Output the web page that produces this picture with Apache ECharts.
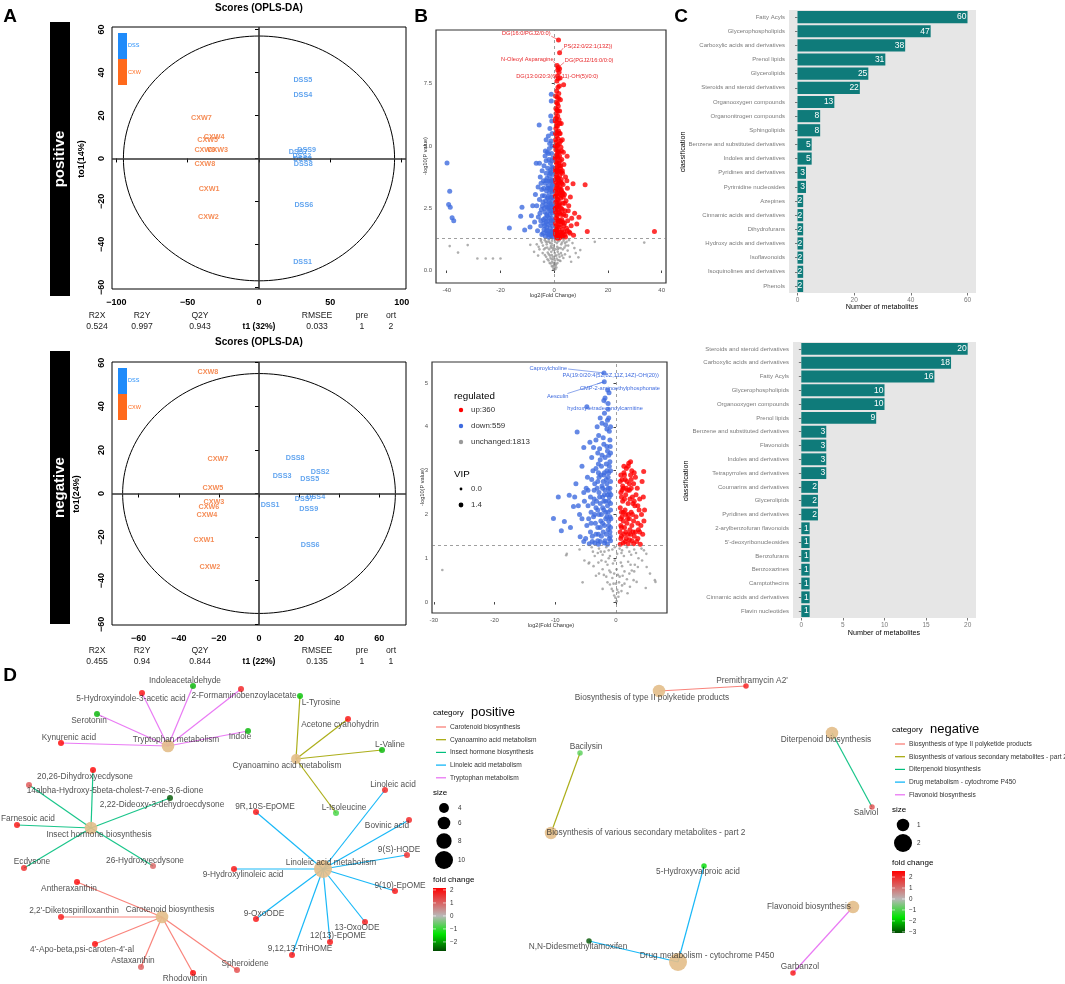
<!DOCTYPE html>
<html><head><meta charset="utf-8">
<script src="https://cdn.jsdelivr.net/npm/echarts@6/dist/echarts.min.js"></script>
<style>html,body{margin:0;padding:0;background:#fff}#c{width:1065px;height:984px}</style>
</head><body><div id="c"></div>
<script>
// ================= DATA =================
// --- A: OPLS-DA scores ---
const oplsSamples = ['CXW1','CXW2','CXW3','CXW4','CXW5','CXW6','CXW7','CXW8','DSS1','DSS2','DSS3','DSS4','DSS5','DSS6','DSS7','DSS8','DSS9'];
const posT1  = [-35,-35.5,-29,-31.4,-36,-38,-40.4,-38, 30.5,30,30.5,30.7,30.7,31.4,27.5,31,33.4];
const posTo1 = [-14.4,-27.4,3.7,10.2,8.8,3.7,18.6,-2.8, -48.4,1,-0.5,29.3,36.3,-21.9,2.8,-2.8,3.7];
const negT1  = [-27.5,-24.5,-22.5,-26,-23,-25,-20.5,-25.5, 5.5,30.5,11.5,28.3,25.3,25.5,22.5,18,24.8];
const negTo1 = [-21.2,-33.5,-3.8,-9.8,2.3,-6.2,16,55.8, -5.3,9.8,7.8,-1.8,6.7,-23.4,-2.4,16.4,-7.2];
const posEllipse = [95, 57];
const negEllipse = [68, 55];
const posXTicks = [-100,-50,0,50,100];
const negXTicks = [-60,-40,-20,0,20,40,60];
const oplsYTicks = [-60,-40,-20,0,20,40,60];
const statNames = ['R2X','R2Y','Q2Y','RMSEE','pre','ort'];
const posStats = ['0.524','0.997','0.943','0.033','1','2'];
const negStats = ['0.455','0.94','0.844','0.135','1','1'];
const posAxisNames = ['t1 (32%)','to1(14%)'];
const negAxisNames = ['t1 (22%)','to1(24%)'];
const groupNames = ['DSS','CXW'];

// --- B: volcano plots ---
const volPosUp = [[1.6,9.25],[2.0,8.74],[1.1,8.23],[1.5,8.15],[1.3,8.05],[1.8,7.95],[1.2,7.8],[2.2,7.72],[3.5,7.45],[1.0,7.6],[1.4,7.35],[0.9,7.2],[1.7,7.1],[1.1,6.95],[2.3,6.85],[0.8,6.75],[1.5,6.6],[1.0,6.45],[2.0,6.4],[0.7,6.3],[1.3,6.2],[1.8,6.05],[0.9,5.95],[2.6,5.9],[1.2,5.8],[0.6,5.7],[1.6,5.6],[2.2,5.5],[0.9,5.4],[1.4,5.3],[3.0,5.25],[0.7,5.15],[1.9,5.1],[1.1,5.0],[2.5,4.95],[0.6,4.85],[1.5,4.8],[3.4,4.75],[0.9,4.65],[2.0,4.6],[4.8,4.59],[1.2,4.5],[2.8,4.45],[0.7,4.35],[1.7,4.3],[3.6,4.25],[1.0,4.15],[2.3,4.1],[0.5,4.0],[1.4,3.95],[3.1,3.9],[0.8,3.85],[2.0,3.8],[4.2,3.75],[1.1,3.7],[2.6,3.65],[0.6,3.55],[1.6,3.5],[7.0,3.48],[11.5,3.44],[3.3,3.45],[0.9,3.4],[2.2,3.35],[4.9,3.3],[1.3,3.25],[0.5,3.2],[2.9,3.15],[1.8,3.1],[3.8,3.05],[0.8,3.0],[6.0,2.95],[2.4,2.9],[1.2,2.85],[4.4,2.8],[0.6,2.75],[3.2,2.7],[1.7,2.65],[5.4,2.6],[0.9,2.55],[2.6,2.5],[1.4,2.45],[4.0,2.4],[0.5,2.35],[7.6,2.3],[2.1,2.3],[3.5,2.25],[1.1,2.2],[9.2,2.14],[0.7,2.1],[2.8,2.05],[5.0,2.0],[1.6,1.95],[0.5,1.9],[3.8,1.9],[8.4,1.87],[2.3,1.85],[6.3,1.8],[1.2,1.75],[4.6,1.7],[0.8,1.65],[3.0,1.65],[12.3,1.57],[37.3,1.57],[1.9,1.55],[5.6,1.55],[0.6,1.5],[2.6,1.45],[4.0,1.45],[1.4,1.4],[7.2,1.42],[0.9,1.35],[3.3,1.35],[2.0,1.32],[0.4,6.0],[0.5,5.5],[0.4,5.0],[0.4,4.5],[0.4,3.0],[0.4,2.5],[0.4,1.6],[1.0,1.5],[1.5,2.0],[1.9,2.6],[2.5,3.2],[1.8,3.6],[2.4,4.2],[2.7,3.0],[3.6,1.8],[4.3,2.2],[4.9,1.6],[3.9,2.7],[2.2,2.0],[1.2,1.3],[3.1,1.5],[5.2,2.4],[6.5,2.1],[5.9,1.5],[4.7,3.6],[3.0,4.0],[2.7,4.8],[1.8,4.0],[1.9,5.5],[1.4,6.4],[1.7,6.9],[2.0,5.9],
  [0.5,7.0],[0.6,6.5],[0.5,6.1],[0.8,5.8],[1.0,5.55],[0.5,5.25],[1.3,5.05],[0.8,4.9],[1.8,4.75],[0.6,4.6],[1.4,4.55],[2.2,4.4],[0.9,4.3],[1.9,4.2],[0.6,4.1],[1.2,4.0],[2.6,3.95],[0.9,3.75],[1.5,3.7],[0.5,3.65],[2.3,3.55],[1.2,3.45],[0.7,3.3],[1.7,3.3],[2.6,3.25],[1.0,3.1],[2.1,3.05],[0.6,2.95],[1.5,2.85],[3.4,2.95],[0.8,2.7],[2.0,2.7],[1.1,2.55],[3.0,2.45],[0.6,2.45],[1.8,2.35],[2.7,2.25],[0.9,2.25],[1.3,2.05],[2.5,1.95],[0.7,1.8],[1.9,1.75],[3.2,1.95],[1.0,1.6],[2.3,1.55],[0.5,1.45],[1.6,1.38],[2.9,1.4],[3.7,1.55],[4.2,1.35],[2.8,3.5],[3.3,3.1],[0.7,3.95],[1.3,4.75],[2.4,5.2],[0.8,6.1],[1.2,6.7],[1.9,7.4],[1.5,7.7],[2.0,8.1]];
const volPosDown = [[-39.9,4.31],[-38.9,3.18],[-39.3,2.65],[-38.7,2.54],[-38.0,2.12],[-37.4,2.0],[-16.7,1.71],[-12.0,2.54],[-12.5,2.18],[-11.0,1.63],[-5.6,5.84],[-1.1,7.07],[-1.1,6.8],[-1.3,6.2],[-0.9,6.0],[-1.6,5.7],[-0.8,5.5],[-2.2,5.4],[-1.2,5.2],[-3.0,5.25],[-0.7,5.0],[-1.8,4.9],[-2.6,4.75],[-1.0,4.7],[-3.4,4.6],[-0.6,4.5],[-2.0,4.45],[-5.5,4.3],[-6.7,4.3],[-1.4,4.3],[-3.8,4.2],[-0.8,4.15],[-2.4,4.1],[-4.5,4.0],[-1.1,3.95],[-3.0,3.9],[-0.5,3.85],[-1.8,3.8],[-5.2,3.75],[-2.7,3.7],[-0.9,3.65],[-4.0,3.6],[-1.5,3.55],[-3.3,3.5],[-0.6,3.45],[-2.2,3.4],[-6.0,3.35],[-1.2,3.3],[-4.6,3.25],[-2.9,3.2],[-0.8,3.15],[-1.9,3.1],[-7.0,3.05],[-3.6,3.0],[-1.0,2.95],[-2.5,2.9],[-5.5,2.85],[-0.6,2.8],[-4.2,2.75],[-1.6,2.7],[-3.1,2.65],[-6.5,2.6],[-0.9,2.55],[-2.2,2.5],[-4.8,2.45],[-1.3,2.4],[-3.5,2.35],[-8.5,2.2],[-0.7,2.3],[-2.8,2.25],[-5.9,2.15],[-1.8,2.1],[-4.0,2.05],[-1.0,2.0],[-7.3,1.95],[-3.0,1.95],[-2.2,1.85],[-5.0,1.8],[-0.6,1.8],[-1.5,1.7],[-3.8,1.65],[-6.2,1.6],[-0.9,1.55],[-2.6,1.5],[-4.6,1.45],[-1.2,1.4],[-3.3,1.38],[-0.5,1.35],[-2.0,1.35],[-9.0,1.75],[-8.0,2.6],[-3.0,4.4],[-2.0,3.6],[-1.4,2.9],[-2.4,2.0],[-0.4,2.0],[-0.4,2.6],[-0.4,3.2],[-1.7,1.45],[-3.7,2.5],[-4.4,3.0],[-2.9,1.6],[-5.3,2.3],[-1.1,3.6],[-2.1,4.7],[-3.9,1.9],[-1.9,2.55],[-0.5,4.1],
  [-0.5,2.4],[-1.1,2.65],[-1.6,2.25],[-2.0,2.75],[-0.8,2.95],[-2.6,2.2],[-3.2,2.8],[-1.3,1.9],[-0.7,1.6],[-2.4,1.6],[-1.9,3.3],[-3.4,2.1],[-4.4,2.6],[-0.6,3.6],[-1.5,3.9],[-2.5,3.3],[-3.1,3.6],[-1.2,1.55],[-2.1,1.45],[-3.5,1.8],[-4.1,1.5],[-0.9,4.4],[-1.6,4.0],[-2.8,1.75],[-0.5,1.5],[-1.4,3.25],[-2.3,2.95],[-3.9,3.3],[-5.0,2.0],[-0.9,2.1],[-1.8,2.4],[-2.7,2.55],[-0.7,3.4],[-4.9,3.5],[-3.3,4.8],[-1.7,5.1]];
const volPosNone = [[-38.9,0.98],[-32.2,1.02],[-35.8,0.72],[-28.6,0.48],[-25.5,0.48],[-22.8,0.48],[-20.0,0.48],[-8.9,1.03],[15.1,1.15],[33.5,1.12],[9.7,0.82],[9.0,0.53],[-5.0,1.2],[-3.5,1.22],[-2.0,1.25],[-0.8,1.2],[0.6,1.25],[2.0,1.22],[3.5,1.2],[5.5,1.22],[-6.5,1.05],[-4.2,1.0],[-2.8,1.05],[-1.5,1.1],[-0.3,1.0],[1.0,1.1],[2.6,1.05],[4.3,1.0],[6.8,1.1],[-5.5,0.85],[-3.3,0.9],[-1.9,0.85],[-0.7,0.9],[0.5,0.85],[1.7,0.9],[3.2,0.85],[5.0,0.8],[7.5,0.9],[-4.3,0.7],[-2.4,0.72],[-1.1,0.75],[0.2,0.7],[1.3,0.75],[2.5,0.7],[4.0,0.65],[-3.0,0.55],[-1.6,0.6],[-0.5,0.55],[0.8,0.6],[2.0,0.55],[3.4,0.5],[-2.1,0.4],[-0.9,0.45],[0.3,0.4],[1.4,0.42],[-1.3,0.28],[-0.3,0.3],[0.7,0.25],[-0.6,0.15],[0.2,0.12],[0,0.05],[-0.2,0.2],[0.5,0.2],[-6.0,0.6],[5.8,0.55],[-7.5,0.75],[8.0,0.7],[-0.4,0.82],[1.1,0.95],[-1.2,0.98],[2.3,0.38],[-2.6,1.15],[4.6,1.15],[-3.8,0.35],[6.3,0.35],
  [-4.6,1.12],[-3.1,1.15],[-1.9,1.15],[-0.9,1.08],[0.3,1.15],[1.5,1.17],[2.9,1.12],[4.0,1.1],[-3.8,0.85],[-2.6,0.92],[-1.3,0.92],[-0.1,0.9],[1.3,0.85],[2.4,0.9],[3.8,0.92],[-3.5,0.62],[-2.0,0.65],[-0.9,0.62],[0.4,0.6],[1.7,0.65],[2.9,0.6],[-2.5,0.45],[-1.4,0.5],[-0.3,0.45],[0.9,0.48],[2.0,0.4],[-1.7,0.3],[-0.8,0.35],[0.2,0.3],[1.2,0.3],[-0.9,0.18],[0.0,0.22],[0.8,0.12],[-0.3,0.06],[0.4,0.05],[-4.9,1.25],[5.2,1.0],[-5.8,0.95]];
const volPosLabels = [ // text, label x, label y, segment start x, y, point x, y
  ['DG(16:0/PGJ2/0:0)', -10.4, 9.52, -1.1, 9.4, 1.6, 9.25],
  ['PS(22:0/22:1(13Z))', 12.6, 9.0, 3.3, 8.92, 2.0, 8.74],
  ['N-Oleoyl Asparagine', -10, 8.47, -0.4, 8.39, 1.1, 8.23],
  ['DG(PGJ2/16:0/0:0)', 13, 8.43, 3.7, 8.35, 1.5, 8.15],
  ['DG(13:0/20:3(6,8,11)-OH(5)/0:0)', 1.1, 7.8, null, null, null, null]
];
const volNegUp = [[2.1,3.17],[2.0,3.1],[4.56,2.98],[1.3,2.95],[2.4,2.9],[1.0,2.8],[1.8,2.75],[2.9,2.7],[3.5,2.6],[1.2,2.6],[2.2,2.55],[0.8,2.5],[1.6,2.45],[2.7,2.4],[3.9,2.35],[1.1,2.3],[2.0,2.25],[3.1,2.2],[0.7,2.15],[1.5,2.1],[2.5,2.05],[4.2,2.0],[1.0,1.95],[1.9,1.9],[2.9,1.85],[3.6,1.8],[0.8,1.75],[1.4,1.7],[2.3,1.65],[3.2,1.6],[4.4,1.55],[0.9,1.5],[1.7,1.45],[2.6,1.4],[3.4,1.38],[1.2,1.35],[2.0,1.33],[0.7,1.32],[4.0,1.32],[1.4,2.9],[2.6,3.0],[3.0,2.95],[1.7,3.05],[0.9,2.05],[1.3,1.55],[2.2,1.9],[2.8,2.25],[3.3,2.45],[3.8,2.1],[4.7,2.1],[4.5,2.4],[0.7,1.6],[1.6,2.0],[2.4,1.55],[3.0,1.5],[1.1,2.65],[1.9,2.55],[2.5,2.8],[3.7,1.65],[4.1,1.75],
  [0.8,2.9],[1.5,2.8],[2.2,2.7],[3.2,2.85],[0.9,2.4],[1.4,2.35],[2.3,2.35],[3.0,2.3],[0.75,1.9],[1.2,1.85],[1.8,1.8],[2.6,1.75],[3.3,1.95],[0.8,1.45],[1.5,1.38],[2.2,1.42],[2.9,1.33],[3.6,1.45],[1.2,2.05],[2.0,2.0],[2.7,2.0],[1.0,2.55],[1.7,2.6],[2.5,2.6],[3.6,2.2],[4.3,2.75],[0.9,1.7],[2.0,1.55],[1.3,3.1],[2.4,3.2],[0.7,2.75],[3.9,1.6],[4.6,1.85],[1.6,1.6],[2.8,1.6]];
const volNegDown = [[-1.98,5.23],[-1.93,5.03],[-1.37,4.84],[-1.15,4.78],[-1.8,4.66],[-4.8,4.46],[-1.3,4.53],[-1.9,4.31],[-1.2,4.2],[-2.3,4.08],[-6.4,3.88],[-2.85,3.8],[-1.5,3.95],[-4.3,3.65],[-5.3,3.53],[-3.7,3.53],[-1.0,3.7],[-2.0,3.6],[-3.0,3.4],[-1.4,3.45],[-9.5,2.4],[-7.7,2.44],[-10.3,1.91],[-8.5,1.84],[-9.0,1.63],[-7.0,2.18],[-5.9,1.49],[-5.3,1.38],[-1.0,3.2],[-1.6,3.15],[-2.4,3.1],[-3.3,3.05],[-1.2,2.95],[-2.0,2.9],[-2.8,2.85],[-4.0,2.8],[-0.9,2.75],[-1.5,2.7],[-2.3,2.65],[-3.1,2.6],[-4.6,2.55],[-1.1,2.5],[-1.9,2.45],[-2.7,2.4],[-3.6,2.35],[-5.2,2.3],[-0.9,2.25],[-1.4,2.2],[-2.2,2.15],[-3.0,2.1],[-4.1,2.05],[-6.0,2.0],[-1.0,1.95],[-1.7,1.9],[-2.5,1.85],[-3.4,1.8],[-4.8,1.75],[-0.9,1.7],[-1.3,1.65],[-2.1,1.6],[-2.9,1.55],[-3.9,1.5],[-1.1,1.45],[-1.8,1.4],[-2.6,1.38],[-3.5,1.35],[-4.4,1.33],[-1.4,1.32],[-0.9,3.0],[-1.3,2.05],[-2.0,2.3],[-2.6,1.7],[-1.6,2.8],[-3.8,3.0],[-4.9,2.6],[-6.6,2.7],[-5.6,3.1],[-3.2,2.3],[-1.2,1.85],[-2.3,3.35],[-0.95,1.5],[-1.9,1.75],[-3.7,1.95],[-4.6,2.2],[-2.2,2.6],[-1.5,3.0],[-1.1,2.4],[-2.9,2.95],[-1.7,2.3],[-1.0,1.6],[-5.6,1.9],[-6.8,2.4],[-7.5,1.7],[-4.2,1.6],[-3.0,1.4],[-2.4,2.0],[-0.9,2.1],[-1.3,2.6],
  [-1.2,3.35],[-1.8,3.3],[-2.6,3.25],[-0.9,3.4],[-1.5,3.55],[-2.1,3.75],[-1.1,3.9],[-1.7,4.05],[-2.6,4.2],[-1.4,4.15],[-3.3,3.7],[-4.0,3.3],[-2.9,3.15],[-1.3,2.85],[-2.1,2.75],[-3.5,2.7],[-1.0,2.6],[-1.8,2.55],[-2.8,2.5],[-4.2,2.4],[-1.2,2.3],[-2.0,2.1],[-2.8,2.0],[-3.3,2.15],[-1.5,1.95],[-2.2,1.8],[-3.0,1.7],[-4.1,1.8],[-0.9,1.4],[-1.6,1.55],[-2.4,1.5],[-3.3,1.55],[-1.9,1.35],[-2.9,1.32],[-3.9,1.38],[-5.0,1.45],[-4.5,1.9],[-5.3,2.5],[-6.2,2.2],[-3.6,2.55],[-2.5,2.9],[-1.1,3.1],[-0.85,2.45],[-0.85,1.9],[-1.4,2.45],[-2.2,2.4],[-3.0,2.75],[-1.7,2.05],[-2.6,2.25],[-3.5,2.0],[-1.2,1.75],[-0.95,3.55],[-1.9,2.95],[-2.7,3.5],[-3.8,2.25],[-4.7,2.85],[-0.9,4.0],[-1.3,4.4],[-2.0,4.6],[-3.1,4.0]];
const volNegNone = [[-28.6,0.73],[-8.1,1.1],[-8.2,1.07],[-4.5,0.88],[6.5,0.46],[3.4,0.46],[5.05,0.8],[6.4,0.5],[-4.0,1.25],[-2.8,1.22],[-1.6,1.25],[-0.6,1.2],[0.6,1.22],[1.8,1.25],[3.0,1.2],[4.2,1.22],[-3.5,1.05],[-2.2,1.08],[-1.0,1.05],[0.2,1.1],[1.3,1.05],[2.5,1.08],[3.7,1.0],[-2.9,0.9],[-1.7,0.92],[-0.5,0.88],[0.8,0.9],[2.0,0.92],[3.1,0.85],[-2.2,0.75],[-1.1,0.72],[0.1,0.75],[1.4,0.7],[2.6,0.72],[-1.6,0.58],[-0.6,0.55],[0.6,0.58],[1.8,0.52],[-1.0,0.4],[0,0.42],[1.0,0.38],[-0.5,0.25],[0.4,0.22],[-0.1,0.1],[0.1,0.02],[-5.2,0.95],[5.0,1.1],[-6.0,1.2],[5.6,0.65],[-3.3,0.6],[2.9,0.5],[-0.3,0.65],[-2.5,1.15],[1.0,1.18],
  [-3.8,1.15],[-3.0,1.12],[-1.9,1.15],[-1.2,1.18],[-0.2,1.25],[0.9,1.12],[2.2,1.15],[3.3,1.12],[4.6,1.18],[-4.4,0.9],[-3.7,0.82],[-2.4,0.95],[-1.4,0.85],[-0.2,0.95],[1.0,0.82],[2.4,0.85],[3.6,0.8],[4.3,0.95],[-2.8,0.65],[-2.0,0.62],[-0.9,0.68],[0.3,0.62],[1.1,0.6],[2.2,0.65],[3.0,0.7],[-1.4,0.45],[-0.4,0.42],[0.5,0.45],[1.4,0.42],[2.3,0.35],[-0.7,0.3],[0.2,0.28],[0.9,0.25],[-0.3,0.15],[0.4,0.12],[-2.2,0.3],[1.9,0.2],[-5.5,0.45],[4.9,0.32],[-1.2,1.0]];
const volNegLabels = [
  ['Caproylcholine', -11.15, 5.34, -7.9, 5.32, -1.98, 5.23],
  ['PA(19:0/20:4(5Z,8Z,11Z,14Z)-OH(20))', -0.87, 5.18, null, null, null, null],
  ['CMP-2-aminoethylphosphonate', 0.66, 4.88, -3.1, 4.98, -1.93, 5.03],
  ['Aesculin', -9.6, 4.7, -8.0, 4.76, -1.93, 5.03],
  ['hydroxytetradecenoylcarnitine', -1.8, 4.42, -1.8, 4.52, -1.8, 4.66]
];
const regNames = ['up','down','unchanged'];
const regCounts = [360, 559, 1813];
const vipBreaks = ['0.0','1.4'];
const volPosXTicks = [-40,-20,0,20,40];
const volPosYTicks = [0,2.5,5,7.5];
const volNegXTicks = [-30,-20,-10,0];
const volNegYTicks = [0,1,2,3,4,5];
const pThreshold = 1.3;

// --- C: classification bars ---
const posCats = ['Fatty Acyls','Glycerophospholipids','Carboxylic acids and derivatives','Prenol lipids','Glycerolipids','Steroids and steroid derivatives','Organooxygen compounds','Organonitrogen compounds','Sphingolipids','Benzene and substituted derivatives','Indoles and derivatives','Pyridines and derivatives','Pyrimidine nucleosides','Azepines','Cinnamic acids and derivatives','Dihydrofurans','Hydroxy acids and derivatives','Isoflavonoids','Isoquinolines and derivatives','Phenols'];
const posCounts = [60,47,38,31,25,22,13,8,8,5,5,3,3,2,2,2,2,2,2,2];
const negCats = ['Steroids and steroid derivatives','Carboxylic acids and derivatives','Fatty Acyls','Glycerophospholipids','Organooxygen compounds','Prenol lipids','Benzene and substituted derivatives','Flavonoids','Indoles and derivatives','Tetrapyrroles and derivatives','Coumarins and derivatives','Glycerolipids','Pyridines and derivatives','2-arylbenzofuran flavonoids',"5'-deoxyribonucleosides",'Benzofurans','Benzoxazines','Camptothecins','Cinnamic acids and derivatives','Flavin nucleotides'];
const negCounts = [20,18,16,10,10,9,3,3,3,3,2,2,2,1,1,1,1,1,1,1];
const posBarTicks = [0,20,40,60];
const negBarTicks = [0,5,10,15,20];

// --- D: pathway networks (layout coordinates) ---
const posPathways = ['Carotenoid biosynthesis','Cyanoamino acid metabolism','Insect hormone biosynthesis','Linoleic acid metabolism','Tryptophan metabolism'];
const posPathwayXY = [[162,252],[296,94],[91,163],[323,204],[168,81]];
const posPathwayLabelXY = [[170,245],[287,101],[99,170],[331,198],[176,75]];
const posMetabolites = ['Indoleacetaldehyde','5-Hydroxyindole-3-acetic acid','2-Formaminobenzoylacetate','Serotonin','Kynurenic acid','Indole','L-Tyrosine','Acetone cyanohydrin','L-Valine','L-Isoleucine','20,26-Dihydroxyecdysone','14alpha-Hydroxy-5beta-cholest-7-ene-3,6-dione','2,22-Dideoxy-3-dehydroecdysone','Farnesoic acid','Ecdysone','26-Hydroxyecdysone','9R,10S-EpOME','9-Hydroxylinoleic acid','9-OxoODE','9,12,13-TriHOME','12(13)-EpOME','13-OxoODE','9(10)-EpOME','9(S)-HODE','Bovinic acid','Linoleic acid','Antheraxanthin',"2,2'-Diketospirilloxanthin","4'-Apo-beta,psi-caroten-4'-al",'Astaxanthin','Rhodovibrin','Spheroidene'];
const posMetPathway = [4,4,4,4,4,4,1,1,1,1,2,2,2,2,2,2,3,3,3,3,3,3,3,3,3,3,0,0,0,0,0,0];
const posMetXY = [[193,21],[142,28],[241,24],[97,49],[61,78],[248,66],[300,31],[348,54],[382,85],[336,148],[93,105],[29,120],[170,133],[17,160],[24,203],[153,201],[256,147],[234,204],[256,254],[292,290],[330,277],[365,257],[395,226],[407,190],[409,155],[385,125],[77,217],[61,252],[95,279],[141,302],[193,308],[237,305]];
const posMetLabelXY = [[185,16],[131,34],[244,31],[89,56],[69,73],[240,72],[321,38],[340,60],[390,80],[344,143],[85,112],[115,126],[162,140],[28,154],[32,197],[145,196],[265,142],[243,210],[264,249],[300,284],[338,271],[357,263],[400,221],[399,185],[387,161],[393,120],[69,224],[74,246],[82,285],[133,296],[185,314],[245,299]];
const posMetFC = [-1.8,2.0,1.8,-1.8,2.2,-1.8,-1.7,2.0,-1.8,-0.9,2.2,1.2,-2.6,2.0,1.7,1.0,2.0,2.0,2.0,2.0,2.0,1.9,2.0,1.7,1.8,1.8,2.1,1.9,2.1,1.1,2.1,1.3];
const posSizeBreaks = [4,6,8,10];
const posFCBreaks = [2,1,0,-1,-2];

const negPathways = ['Biosynthesis of type II polyketide products','Biosynthesis of various secondary metabolites - part 2','Diterpenoid biosynthesis','Drug metabolism - cytochrome P450','Flavonoid biosynthesis'];
const negPathwayXY = [[659,26],[551,168],[832,68],[678,297],[853,242]];
const negPathwayLabelXY = [[652,33],[646,168],[826,75],[707,291],[809,242]];
const negMetabolites = ["Premithramycin A2'",'Bacilysin','Salviol','5-Hydroxyvalproic acid','N,N-Didesmethyltamoxifen','Garbanzol'];
const negMetPathway = [0,1,2,3,3,4];
const negMetXY = [[746,21],[580,88],[872,142],[704,201],[589,276],[793,308]];
const negMetLabelXY = [[752,16],[586,82],[866,148],[698,207],[578,282],[800,302]];
const negMetFC = [2.2,-0.9,1.5,-1.8,-3.0,2.3];
const negSizeBreaks = [1,2];
const negFCBreaks = [2,1,0,-1,-2,-3];

// ================= STYLE =================
const FONT = "'Liberation Sans', Arial, Helvetica, sans-serif";
const CXW_COL = '#F36F2C', DSS_COL = '#3A8DEB';
const CXW_BAR = '#FF6A1C', DSS_BAR = '#1F8BFA';
const RED = '#FF0000', BLUE = '#3F6BDF', GREY = '#9A9A9A';
const TEAL = '#0F7B7A';
const CAT_COLS = ['#F8766D','#A3A500','#00BF7D','#00B0F6','#E76BF3'];
const HUB_COL = '#E3BE89';
const posFCStops = [[-2.7,'#004a00'],[-1.4,'#00e400'],[0,'#b8b8b8'],[2.15,'#ff0000']];
const negFCStops = [[-3.1,'#004a00'],[-1.7,'#00e400'],[0,'#b8b8b8'],[2.55,'#ff0000']];
const posHubSize = n => 4.5 + 1.35 * n;
const negHubSize = n => 7 + 5.5 * n;

function hex2rgb(h){h=h.replace('#','');return [0,2,4].map(i=>parseInt(h.substr(i,2),16));}
function fcColor(v, stops){
  if (v <= stops[0][0]) return stops[0][1];
  if (v >= stops[stops.length-1][0]) return stops[stops.length-1][1];
  for (let i=0;i<stops.length-1;i++){
    const a=stops[i], b=stops[i+1];
    if (v>=a[0] && v<=b[0]){
      const t=(v-a[0])/(b[0]-a[0]); const ca=hex2rgb(a[1]), cb=hex2rgb(b[1]);
      const c=ca.map((x,k)=>Math.round(x+(cb[k]-x)*t));
      return 'rgb('+c.join(',')+')';
    }
  }
  return stops[0][1];
}
const minus = v => (v<0 ? '\u2212'+Math.abs(v) : String(v));

// ================= BUILD =================
const grid = [
  {left:112, top:27, width:294, height:262, show:true, borderColor:'#000', borderWidth:1},
  {left:112, top:362, width:294, height:263, show:true, borderColor:'#000', borderWidth:1},
  {left:436, top:30, width:230, height:253, show:true, borderColor:'#333', borderWidth:1.2},
  {left:432, top:362, width:235, height:251, show:true, borderColor:'#333', borderWidth:1.2},
  {left:789, top:10, width:187, height:283, show:true, backgroundColor:'#E6E6E6', borderWidth:0},
  {left:793, top:342, width:183, height:276, show:true, backgroundColor:'#E6E6E6', borderWidth:0},
  {left:0, top:665, width:1065, height:319, show:false}
];
const xAxis = [], yAxis = [], series = [], graphic = [];

function oplsAxes(gi, xmin, xmax, xt, ymin, ymax, yt){
  const lab = {color:'#000', fontWeight:'bold', fontSize:9, fontFamily:FONT, formatter:minus};
  xAxis.push({gridIndex:gi, type:'value', min:xmin, max:xmax, splitLine:{show:false}, axisLine:{show:false},
    axisTick:{show:true, customValues:xt, length:4, lineStyle:{color:'#000'}},
    axisLabel:Object.assign({customValues:xt, margin:9}, lab)});
  yAxis.push({gridIndex:gi, type:'value', min:ymin, max:ymax, splitLine:{show:false}, axisLine:{show:false},
    axisTick:{show:true, customValues:yt, length:4, lineStyle:{color:'#000'}},
    axisLabel:Object.assign({customValues:yt, margin:6, rotate:90}, lab)});
}
function addOpls(gi, t1, to1, ell){
  series.push({type:'custom', coordinateSystem:'cartesian2d', xAxisIndex:gi, yAxisIndex:gi, silent:true, z:2,
    data:[[0,0,ell[0],ell[1]]],
    renderItem:(p,api)=>{const pts=[];for(let k=0;k<=180;k++){const t=k/180*Math.PI*2;
      pts.push(api.coord([api.value(0)+api.value(2)*Math.cos(t), api.value(1)+api.value(3)*Math.sin(t)]));}
      return {type:'polyline', shape:{points:pts}, style:{stroke:'#000', fill:'none', lineWidth:1}};}});
  series.push({type:'scatter', xAxisIndex:gi, yAxisIndex:gi, symbolSize:1, z:4, silent:true,
    itemStyle:{color:'rgba(0,0,0,0)'},
    data: oplsSamples.map((n,i)=>({name:n, value:[t1[i],to1[i]], label:{color:n.startsWith('CXW')?CXW_COL:DSS_COL}})),
    label:{show:true, position:'inside', formatter:'{b}', fontSize:7.2, fontWeight:'bold', fontFamily:FONT},
    markLine:{silent:true, symbol:'none', label:{show:false}, animation:false,
      lineStyle:{color:'#333', width:1.6, type:'solid'}, data:[{xAxis:0},{yAxis:0}]}});
}
oplsAxes(0, -103, 103, posXTicks, -60.8, 61.2, oplsYTicks);
oplsAxes(1, -73.3, 73.3, negXTicks, -60.3, 60.3, oplsYTicks);
addOpls(0, posT1, posTo1, posEllipse);
addOpls(1, negT1, negTo1, negEllipse);

// volcano
function volAxes(gi, xmin, xmax, xt, ymin, ymax, yt, yfmt){
  const lab = {color:'#555', fontSize:6, fontFamily:FONT};
  xAxis.push({gridIndex:gi, type:'value', min:xmin, max:xmax, splitLine:{show:false}, axisLine:{show:false},
    axisTick:{show:true, customValues:xt, length:2.5, lineStyle:{color:'#444'}},
    axisLabel:Object.assign({customValues:xt, margin:4}, lab)});
  yAxis.push({gridIndex:gi, type:'value', min:ymin, max:ymax, splitLine:{show:false}, axisLine:{show:false},
    axisTick:{show:true, customValues:yt, length:2.5, lineStyle:{color:'#444'}},
    axisLabel:Object.assign({customValues:yt, margin:4, formatter:yfmt}, lab)});
}
function addVolcano(gi, up, down, none, labels, labCol){
  series.push({type:'scatter', xAxisIndex:gi, yAxisIndex:gi, data:none, symbolSize:2.6, silent:true, z:2,
    itemStyle:{color:GREY},
    markLine:{silent:true, symbol:'none', label:{show:false}, animation:false,
      lineStyle:{color:'#777', width:0.7, type:[3,3]}, data:[{yAxis:pThreshold},{xAxis:0}]}});
  series.push({type:'scatter', xAxisIndex:gi, yAxisIndex:gi, data:down, symbolSize:5, silent:true, z:3, itemStyle:{color:BLUE}});
  series.push({type:'scatter', xAxisIndex:gi, yAxisIndex:gi, data:up, symbolSize:5, silent:true, z:3, itemStyle:{color:RED}});
  series.push({type:'custom', coordinateSystem:'cartesian2d', xAxisIndex:gi, yAxisIndex:gi, silent:true, z:5,
    data: labels.map(l=>[l[1], l[2]]),
    renderItem:(p,api)=>{
      const d = labels[p.dataIndex]; const a = api.coord([d[1],d[2]]); const ch=[];
      if (d[3]!==null){const s=api.coord([d[3],d[4]]), e=api.coord([d[5],d[6]]);
        ch.push({type:'line', shape:{x1:s[0],y1:s[1],x2:e[0],y2:e[1]}, style:{stroke:labCol, lineWidth:0.6}});}
      ch.push({type:'text', x:a[0], y:a[1], style:{text:d[0], fill:labCol, fontSize:5.7, fontFamily:FONT, align:'center', verticalAlign:'middle'}});
      return {type:'group', children:ch};
    }});
}
volAxes(2, -44, 41.6, volPosXTicks, -0.5, 9.65, volPosYTicks, v=>v.toFixed(1));
volAxes(3, -30.3, 8.4, volNegXTicks, -0.25, 5.48, volNegYTicks, v=>String(v));
addVolcano(2, volPosUp, volPosDown, volPosNone, volPosLabels, '#E8282B');
addVolcano(3, volNegUp, volNegDown, volNegNone, volNegLabels, '#3F6BDF');

// bars
function barAxes(gi, xmin, xmax, xt, cats){
  xAxis.push({gridIndex:gi, type:'value', min:xmin, max:xmax, splitLine:{show:false}, axisLine:{show:false},
    axisTick:{show:true, customValues:xt, length:2.5, lineStyle:{color:'#777'}},
    axisLabel:{customValues:xt, margin:4, color:'#7a7a7a', fontSize:6.5, fontFamily:FONT}});
  yAxis.push({gridIndex:gi, type:'category', data:cats, inverse:true, axisLine:{show:false},
    axisTick:{show:true, alignWithLabel:true, length:2.5, lineStyle:{color:'#777'}},
    axisLabel:{color:'#7a7a7a', fontSize:6, fontFamily:FONT, margin:4}});
}
function addBars(gi, vals){
  series.push({type:'bar', xAxisIndex:gi, yAxisIndex:gi, data:vals, barCategoryGap:'14%', silent:true,
    itemStyle:{color:TEAL},
    label:{show:true, position:'insideRight', distance:1, color:'#fff', fontSize:8.5, fontFamily:FONT}});
}
barAxes(4, -3, 63, posBarTicks, posCats);
barAxes(5, -1, 21, negBarTicks, negCats);
addBars(4, posCounts);
addBars(5, negCounts);

// network
xAxis.push({gridIndex:6, type:'value', min:0, max:1065, show:false});
yAxis.push({gridIndex:6, type:'value', min:0, max:319, inverse:true, show:false});
function addNetwork(paths, pXY, pLab, mets, mPath, mXY, mLab, mFC, stops, hubSize, leafSize){
  const links = mets.map((m,i)=>[pXY[mPath[i]][0], pXY[mPath[i]][1], mXY[i][0], mXY[i][1]]);
  series.push({type:'custom', coordinateSystem:'cartesian2d', xAxisIndex:6, yAxisIndex:6, silent:true, z:2,
    data:links,
    renderItem:(p,api)=>{const a=api.coord([api.value(0),api.value(1)]), b=api.coord([api.value(2),api.value(3)]);
      return {type:'line', shape:{x1:a[0],y1:a[1],x2:b[0],y2:b[1]}, style:{stroke:CAT_COLS[mPath[p.dataIndex]], lineWidth:1.2, opacity:0.9}};}});
  const counts = paths.map((_,k)=>mPath.filter(x=>x===k).length);
  const nodes = paths.map((n,k)=>({name:n, value:pXY[k], symbolSize:hubSize(counts[k]), itemStyle:{color:HUB_COL, opacity:0.9}}))
    .concat(mets.map((n,i)=>({name:n, value:mXY[i], symbolSize:leafSize, itemStyle:{color:fcColor(mFC[i], stops)}})));
  series.push({type:'scatter', xAxisIndex:6, yAxisIndex:6, data:nodes, silent:true, z:3});
  const labs = paths.map((n,k)=>({name:n, value:pLab[k]})).concat(mets.map((n,i)=>({name:n, value:mLab[i]})));
  series.push({type:'scatter', xAxisIndex:6, yAxisIndex:6, data:labs, symbolSize:1, silent:true, z:4,
    itemStyle:{color:'rgba(0,0,0,0)'},
    label:{show:true, position:'inside', formatter:'{b}', color:'#1e1e1e', fontSize:8.3, fontFamily:FONT}});
}
addNetwork(posPathways, posPathwayXY, posPathwayLabelXY, posMetabolites, posMetPathway, posMetXY, posMetLabelXY, posMetFC, posFCStops, posHubSize, 6);
addNetwork(negPathways, negPathwayXY, negPathwayLabelXY, negMetabolites, negMetPathway, negMetXY, negMetLabelXY, negMetFC, negFCStops, negHubSize, 5.5);

// ================= GRAPHIC (annotations / legends) =================
const T = (text, x, y, o={}) => ({type:'text', x, y, rotation:o.rot||0, silent:true, z:20,
  style:{text:String(text), fill:o.color||'#000', fontSize:o.size||9, fontWeight:o.weight||'normal', fontFamily:FONT,
  align:o.align||'center', verticalAlign:o.va||'middle'}});
const Rc = (x,y,w,h,fill) => ({type:'rect', silent:true, z:20, shape:{x,y,width:w,height:h}, style:{fill}});
const Ln = (x1,y1,x2,y2,stroke,w) => ({type:'line', silent:true, z:20, shape:{x1,y1,x2,y2}, style:{stroke, lineWidth:w}});
const Ci = (cx,cy,r,fill) => ({type:'circle', silent:true, z:20, shape:{cx,cy,r}, style:{fill}});

// panel letters
graphic.push(T('A',10,17,{size:19,weight:'bold'}), T('B',421,17,{size:19,weight:'bold'}), T('C',681,17,{size:19,weight:'bold'}), T('D',10,676,{size:19,weight:'bold'}));

// A panels
function oplsDecor(top, bottom, zeroY, axisNames, stats, title, titleY, legTop, statY, yNameX, label){
  graphic.push(Rc(50, top, 20, bottom-top, '#000'));
  graphic.push(T(label, 60, (top+bottom)/2, {rot:Math.PI/2, color:'#fff', size:15, weight:'bold'}));
  graphic.push(T(axisNames[1], yNameX, zeroY, {rot:Math.PI/2, size:9, weight:'bold'}));
  graphic.push(T(title, 259, titleY, {size:10, weight:'bold'}));
  graphic.push(Rc(118, legTop, 9, 26, DSS_BAR), Rc(118, legTop+26, 9, 26, CXW_BAR));
  graphic.push(T(groupNames[0], 128, legTop+12, {align:'left', size:5.5, color:DSS_BAR}));
  graphic.push(T(groupNames[1], 128, legTop+39, {align:'left', size:5.5, color:CXW_BAR}));
  const sx = [97,142,200,317,362,391];
  statNames.forEach((n,i)=>{
    graphic.push(T(n, sx[i], statY, {size:8.6, color:'#222'}));
    graphic.push(T(stats[i], sx[i], statY+11, {size:8.6, color:'#222'}));
  });
  graphic.push(T(axisNames[0], 259, statY+11, {size:8.6, weight:'bold'}));
}
oplsDecor(22, 296, 159, posAxisNames, posStats, 'Scores (OPLS-DA)', 8, 33, 316, 82, 'positive');
oplsDecor(351, 624, 494, negAxisNames, negStats, 'Scores (OPLS-DA)', 342, 368, 651, 77, 'negative');

// B axis titles & legend
graphic.push(T('log2(Fold Change)', 553, 295, {size:5.6, color:'#333'}));
graphic.push(T('-log10(P value)', 425, 156, {size:5.6, color:'#333', rot:Math.PI/2}));
graphic.push(T('log2(Fold Change)', 551, 625, {size:5.6, color:'#333'}));
graphic.push(T('-log10(P value)', 422, 487, {size:5.6, color:'#333', rot:Math.PI/2}));
graphic.push(T('regulated', 454, 396, {align:'left', size:9.8}));
const regCols = [RED, BLUE, GREY];
regNames.forEach((n,i)=>{
  graphic.push(Ci(461, 410+i*16, 2.2, regCols[i]));
  graphic.push(T(n+':'+regCounts[i], 471, 410+i*16, {align:'left', size:7.9, color:'#333'}));
});
graphic.push(T('VIP', 454, 474, {align:'left', size:9.8}));
vipBreaks.forEach((v,i)=>{
  graphic.push(Ci(461, 489+i*16, i===0?1.4:2.4, '#000'));
  graphic.push(T(v, 471, 489+i*16, {align:'left', size:7.9, color:'#333'}));
});

// C axis titles
graphic.push(T('Number of metabolites', 882, 307, {size:7.2}));
graphic.push(T('Number of metabolites', 884, 633, {size:7.2}));
graphic.push(T('classification', 683, 152, {size:7.2, rot:Math.PI/2}));
graphic.push(T('classification', 686, 481, {size:7.2, rot:Math.PI/2}));

// D legends
function netLegend(x0, yCat, title, paths, ySize, sizeBreaks, sizeY, hubSize, yFC, barTop, barH, fcMax, fcMin, fcBreaks, stops){
  graphic.push(T('category', x0, yCat, {align:'left', size:8}));
  graphic.push(T(title, x0+38, yCat-1, {align:'left', size:13}));
  paths.forEach((p,i)=>{
    const y = yCat+14+i*12.7;
    graphic.push(Ln(x0+3, y, x0+13, y, CAT_COLS[i], 1.2));
    graphic.push(T(p, x0+17, y, {align:'left', size:6.6, color:'#333'}));
  });
  graphic.push(T('size', x0, ySize, {align:'left', size:8}));
  sizeBreaks.forEach((s,i)=>{
    graphic.push(Ci(x0+11, sizeY[i], hubSize(s)/2, '#000'));
    graphic.push(T(s, x0+25, sizeY[i], {align:'left', size:6.3, color:'#333'}));
  });
  graphic.push(T('fold change', x0, yFC, {align:'left', size:8}));
  const cs = stops.map(s=>({offset:(fcMax-s[0])/(fcMax-fcMin), color:s[1]})).sort((a,b)=>a.offset-b.offset)
    .map(c=>({offset:Math.min(1,Math.max(0,c.offset)), color:c.color}));
  graphic.push({type:'rect', silent:true, z:20, shape:{x:x0, y:barTop, width:13, height:barH},
    style:{fill:{type:'linear', x:0, y:0, x2:0, y2:1, colorStops:cs}}});
  fcBreaks.forEach(v=>{
    const y = barTop + (fcMax-v)/(fcMax-fcMin)*barH;
    graphic.push(Ln(x0, y, x0+3, y, '#fff', 0.6), Ln(x0+10, y, x0+13, y, '#fff', 0.6));
    graphic.push(T(minus(v), x0+17, y, {align:'left', size:6.3, color:'#333'}));
  });
}
netLegend(433, 713, 'positive', posPathways, 793, posSizeBreaks, [808,823,841,860], posHubSize, 880, 888, 63, 2.15, -2.7, posFCBreaks, posFCStops);
netLegend(892, 730, 'negative', negPathways, 810, negSizeBreaks, [825,843], negHubSize, 863, 871, 62, 2.55, -3.1, negFCBreaks, negFCStops);

const option = {animation:false, backgroundColor:'#fff', textStyle:{fontFamily:FONT},
  grid, xAxis, yAxis, series, graphic:{elements:graphic}};
const chart = echarts.init(document.getElementById('c'));
chart.setOption(option);
</script>
</body></html>
